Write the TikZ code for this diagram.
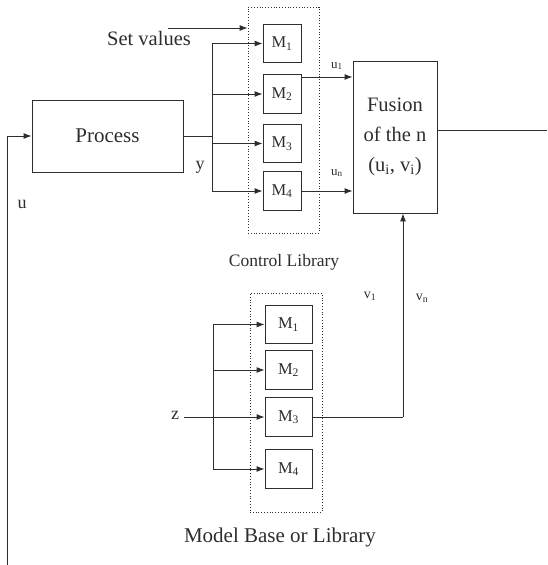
\documentclass[tikz,border=0pt]{standalone}
\usepackage{fontspec}
\setmainfont{Liberation Serif}
\usetikzlibrary{arrows.meta}
\definecolor{ink}{RGB}{45,45,45}
\begin{document}
\begin{tikzpicture}[x=1pt,y=-1pt,
  line/.style={draw=ink,line width=0.9pt},
  arr/.style={line,-{Latex[length=8pt,width=6pt]}},
  blk/.style={draw=ink,line width=0.9pt,inner sep=0pt,text=ink},
  mbox/.style={blk,minimum height=38.5pt,font=\fontsize{16.5}{18}\selectfont},
  lib/.style={draw=ink,dotted,line width=0.8pt,inner sep=0pt},
  lbl/.style={text=ink,inner sep=0pt}]
\useasboundingbox (0,0) rectangle (547,565);

% Process
\node[blk,minimum width=151pt,minimum height=72pt,font=\fontsize{21}{24}\selectfont] (proc) at (107.5,136) {Process};

% Control library
\node[lib,minimum width=71pt,minimum height=226pt] (cl) at (283.5,120) {};
\node[mbox,minimum width=38pt] (c1) at (282,43.5) {M\textsubscript{1}};
\node[mbox,minimum width=38pt] (c2) at (282,94) {M\textsubscript{2}};
\node[mbox,minimum width=38pt] (c3) at (282,143.5) {M\textsubscript{3}};
\node[mbox,minimum width=38pt] (c4) at (282,191) {M\textsubscript{4}};
\node[lbl,font=\fontsize{17.5}{20}\selectfont] (cllab) at (284,262) {Control Library};

% Set values
\node[lbl,font=\fontsize{20.5}{24}\selectfont] (sv) at (149,38) {Set values};
\coordinate (svs) at (168,28);
\draw[arr] (svs) -- (svs -| cl.west);

% y bus
\coordinate (ybus) at (212,136);
\draw[line] (proc.east) -- (ybus);
\draw[line] (ybus |- c1.west) -- (ybus |- c4.west);
\foreach \m in {c1,c2,c3,c4} \draw[arr] (ybus |- \m.west) -- (\m.west);
\node[lbl,font=\fontsize{18}{20}\selectfont] (ylab) at (200,167) {y};

% Fusion
\node[blk,minimum width=84pt,minimum height=152pt,align=center,font=\fontsize{20.5}{30}\selectfont] (fus) at (395,137) {Fusion\\of the n\\(u\textsubscript{i}, v\textsubscript{i})};
\draw[arr] (c2.east |- 0,77) -- (fus.west |- 0,77);
\draw[arr] (c4.east) -- (c4.east -| fus.west);
\node[lbl,font=\fontsize{13}{15}\selectfont] (lu1) at (337,66) {u\textsubscript{1}};
\node[lbl,font=\fontsize{13}{15}\selectfont] (lun) at (337,173) {u\textsubscript{n}};
\coordinate (fo) at (547,130);
\draw[line] (fus.east |- fo) -- (fo);

% Model library
\node[lib,minimum width=72pt,minimum height=219pt] (ml) at (286,402.5) {};
\node[mbox,minimum width=47pt] (m1) at (288.5,324.5) {M\textsubscript{1}};
\node[mbox,minimum width=47pt] (m2) at (288.5,370) {M\textsubscript{2}};
\node[mbox,minimum width=47pt] (m3) at (288.5,417) {M\textsubscript{3}};
\node[mbox,minimum width=47pt] (m4) at (288.5,469) {M\textsubscript{4}};
\node[lbl,font=\fontsize{21}{24}\selectfont] (mllab) at (280,537) {Model Base or Library};

% z bus
\coordinate (zbus) at (213,417);
\node[lbl,font=\fontsize{18}{20}\selectfont] (z) at (175,415) {z};
\draw[line] (zbus |- m1.west) -- (zbus |- m4.west);
\foreach \m in {m1,m2,m4} \draw[arr] (zbus |- \m.west) -- (\m.west);
\draw[arr] ([xshift=5pt]z.east |- m3.west) -- (m3.west);

% v to fusion
\coordinate (vb) at (403,417);
\draw[line] (m3.east) -- (vb);
\draw[arr] (vb) -- (vb |- fus.south);
\node[lbl,font=\fontsize{14}{16}\selectfont] (lv1) at (370,296) {v\textsubscript{1}};
\node[lbl,font=\fontsize{14}{16}\selectfont] (lvn) at (422,298) {v\textsubscript{n}};

% u feedback
\coordinate (ubot) at (7,565);
\coordinate (ucorner) at (7,136);
\draw[arr] (ubot) -- (ucorner) -- (proc.west);
\node[lbl,font=\fontsize{18}{20}\selectfont] (ulab) at (22,204) {u};
\end{tikzpicture}
\end{document}
